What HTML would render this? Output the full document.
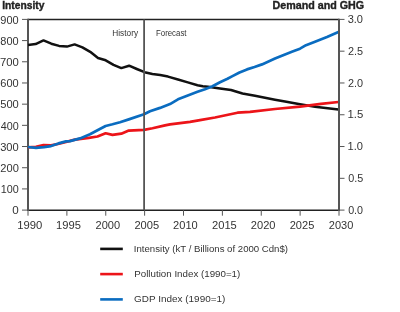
<!DOCTYPE html>
<html><head><meta charset="utf-8"><style>
html,body{margin:0;padding:0;background:#fff;width:400px;height:312px;overflow:hidden}
svg{display:block;font-family:"Liberation Sans", sans-serif;will-change:transform}
</style></head><body>
<svg width="400" height="312" viewBox="0 0 400 312">
<path d="M28,19.4H339" stroke="#222" stroke-width="1.5"/>
<path d="M28,210.35H340" stroke="#222" stroke-width="1.5"/>
<path d="M28,18.7V211.1" stroke="#555" stroke-width="2"/>
<path d="M22,210.10H28" stroke="#555" stroke-width="1"/>
<path d="M22,188.91H28" stroke="#555" stroke-width="1"/>
<path d="M22,167.72H28" stroke="#555" stroke-width="1"/>
<path d="M22,146.53H28" stroke="#555" stroke-width="1"/>
<path d="M22,125.34H28" stroke="#555" stroke-width="1"/>
<path d="M22,104.16H28" stroke="#555" stroke-width="1"/>
<path d="M22,82.97H28" stroke="#555" stroke-width="1"/>
<path d="M22,61.78H28" stroke="#555" stroke-width="1"/>
<path d="M22,40.59H28" stroke="#555" stroke-width="1"/>
<path d="M22,19.40H28" stroke="#555" stroke-width="1"/>
<path d="M339,210.10H344.5" stroke="#555" stroke-width="1"/>
<path d="M339,178.32H344.5" stroke="#555" stroke-width="1"/>
<path d="M339,146.53H344.5" stroke="#555" stroke-width="1"/>
<path d="M339,114.75H344.5" stroke="#555" stroke-width="1"/>
<path d="M339,82.97H344.5" stroke="#555" stroke-width="1"/>
<path d="M339,51.18H344.5" stroke="#555" stroke-width="1"/>
<path d="M339,19.40H344.5" stroke="#555" stroke-width="1"/>
<path d="M28.00,210.1V215.7" stroke="#555" stroke-width="1"/>
<path d="M66.88,210.1V215.7" stroke="#555" stroke-width="1"/>
<path d="M105.75,210.1V215.7" stroke="#555" stroke-width="1"/>
<path d="M144.62,210.1V215.7" stroke="#555" stroke-width="1"/>
<path d="M183.50,210.1V215.7" stroke="#555" stroke-width="1"/>
<path d="M222.38,210.1V215.7" stroke="#555" stroke-width="1"/>
<path d="M261.25,210.1V215.7" stroke="#555" stroke-width="1"/>
<path d="M300.12,210.1V215.7" stroke="#555" stroke-width="1"/>
<path d="M339.00,210.1V215.7" stroke="#555" stroke-width="1"/>
<polyline points="28.0,44.9 35.6,44.1 43.5,40.4 51.3,43.7 59.1,45.9 66.9,46.6 74.6,44.4 82.4,47.3 90.2,51.8 98.0,58.0 105.7,60.3 113.5,64.8 121.3,68.1 129.1,65.7 136.8,69.0 144.6,72.2 152.4,74.0 160.2,75.1 168.0,76.6 178.0,79.5 187.8,82.4 197.5,85.2 202.8,86.2 208.0,86.7 220.0,88.4 231.0,90.0 242.5,93.5 255.0,95.8 275.0,99.7 285.0,101.6 300.0,104.2 315.0,106.7 338.4,109.4" fill="none" stroke="#111" stroke-width="2.5" stroke-linejoin="round"/>
<polyline points="28.0,147.3 36.0,146.8 43.5,145.0 51.0,145.4 59.0,143.8 75.0,139.6 88.8,137.8 97.5,136.5 105.6,133.3 112.5,134.9 121.3,133.7 128.8,130.6 144.0,129.9 152.5,128.2 165.0,125.4 170.0,124.4 190.0,121.8 200.0,120.1 215.0,117.5 237.5,112.7 250.0,111.9 275.0,109.0 300.0,106.6 321.0,103.8 338.4,102.0" fill="none" stroke="#ec1419" stroke-width="2.7" stroke-linejoin="round"/>
<polyline points="28.0,147.0 36.0,147.8 44.0,147.2 51.0,146.1 58.5,143.4 66.0,141.4 70.0,141.1 80.0,138.4 90.0,134.3 97.5,130.3 105.6,126.0 112.5,124.3 120.0,122.2 128.8,119.4 144.0,114.3 150.0,111.3 160.0,107.9 170.0,104.1 178.0,99.3 187.8,95.4 197.5,91.8 205.0,89.2 212.5,86.3 220.0,82.2 227.5,78.8 232.0,76.4 239.5,72.5 247.0,69.4 254.5,67.0 262.0,64.4 275.0,58.6 285.0,54.4 292.5,51.6 300.0,48.7 306.0,45.2 315.0,41.7 327.0,37.0 338.4,32.0" fill="none" stroke="#0a6cc0" stroke-width="2.7" stroke-linejoin="round"/>
<path d="M144.10,19.4V210.1" stroke="#555" stroke-width="1.8"/>
<path d="M339,18.7V211.1" stroke="#555" stroke-width="2"/>
<path d="M100.2,248.9H122.8" stroke="#111" stroke-width="2.6"/>
<path d="M100.2,274.1H122.8" stroke="#ec1419" stroke-width="2.6"/>
<path d="M100.2,299.4H122.8" stroke="#0a6cc0" stroke-width="2.6"/>
<text x="2.16" y="9.40" font-size="10" font-weight="bold" fill="#222" stroke="#222" stroke-width="0.35" textLength="42.34" lengthAdjust="spacingAndGlyphs">Intensity</text>
<text x="272.50" y="9.40" font-size="10" font-weight="bold" fill="#222" stroke="#222" stroke-width="0.35" textLength="91.70" lengthAdjust="spacingAndGlyphs">Demand and GHG</text>
<text x="112.31" y="35.80" font-size="8.2" font-weight="normal" fill="#333" textLength="25.74" lengthAdjust="spacingAndGlyphs">History</text>
<text x="156.03" y="35.80" font-size="8.2" font-weight="normal" fill="#333" textLength="30.48" lengthAdjust="spacingAndGlyphs">Forecast</text>
<text x="133.83" y="252.20" font-size="9.2" font-weight="normal" fill="#333" textLength="154.18" lengthAdjust="spacingAndGlyphs">Intensity (kT / Billions of 2000 Cdn$)</text>
<text x="134.27" y="277.10" font-size="9.2" font-weight="normal" fill="#333" textLength="106.02" lengthAdjust="spacingAndGlyphs">Pollution Index (1990=1)</text>
<text x="134.12" y="302.10" font-size="9.2" font-weight="normal" fill="#333" textLength="91.22" lengthAdjust="spacingAndGlyphs">GDP Index (1990=1)</text>
<text x="12.30" y="214.30" font-size="10.8" font-weight="normal" fill="#333" textLength="6.48" lengthAdjust="spacingAndGlyphs">0</text>
<text x="0.67" y="193.11" font-size="10.8" font-weight="normal" fill="#333" textLength="17.99" lengthAdjust="spacingAndGlyphs">100</text>
<text x="0.32" y="171.92" font-size="10.8" font-weight="normal" fill="#333" textLength="18.50" lengthAdjust="spacingAndGlyphs">200</text>
<text x="0.19" y="150.73" font-size="10.8" font-weight="normal" fill="#333" textLength="18.56" lengthAdjust="spacingAndGlyphs">300</text>
<text x="0.70" y="129.54" font-size="10.8" font-weight="normal" fill="#333" textLength="17.96" lengthAdjust="spacingAndGlyphs">400</text>
<text x="0.19" y="108.36" font-size="10.8" font-weight="normal" fill="#333" textLength="18.60" lengthAdjust="spacingAndGlyphs">500</text>
<text x="0.28" y="87.17" font-size="10.8" font-weight="normal" fill="#333" textLength="18.42" lengthAdjust="spacingAndGlyphs">600</text>
<text x="-0.11" y="65.98" font-size="10.8" font-weight="normal" fill="#333" textLength="18.82" lengthAdjust="spacingAndGlyphs">700</text>
<text x="0.37" y="44.79" font-size="10.8" font-weight="normal" fill="#333" textLength="18.33" lengthAdjust="spacingAndGlyphs">800</text>
<text x="0.30" y="23.60" font-size="10.8" font-weight="normal" fill="#333" textLength="18.36" lengthAdjust="spacingAndGlyphs">900</text>
<text x="348.13" y="213.70" font-size="10.8" font-weight="normal" fill="#333" textLength="14.91" lengthAdjust="spacingAndGlyphs">0.0</text>
<text x="348.13" y="181.92" font-size="10.8" font-weight="normal" fill="#333" textLength="15.01" lengthAdjust="spacingAndGlyphs">0.5</text>
<text x="347.56" y="150.13" font-size="10.8" font-weight="normal" fill="#333" textLength="15.44" lengthAdjust="spacingAndGlyphs">1.0</text>
<text x="347.56" y="118.35" font-size="10.8" font-weight="normal" fill="#333" textLength="15.80" lengthAdjust="spacingAndGlyphs">1.5</text>
<text x="347.96" y="86.57" font-size="10.8" font-weight="normal" fill="#333" textLength="15.10" lengthAdjust="spacingAndGlyphs">2.0</text>
<text x="347.96" y="54.78" font-size="10.8" font-weight="normal" fill="#333" textLength="15.12" lengthAdjust="spacingAndGlyphs">2.5</text>
<text x="347.67" y="23.00" font-size="10.8" font-weight="normal" fill="#333" textLength="15.36" lengthAdjust="spacingAndGlyphs">3.0</text>
<text x="17.19" y="229.00" font-size="10.8" font-weight="normal" fill="#333" textLength="25.07" lengthAdjust="spacingAndGlyphs">1990</text>
<text x="56.08" y="229.00" font-size="10.8" font-weight="normal" fill="#333" textLength="24.93" lengthAdjust="spacingAndGlyphs">1995</text>
<text x="95.52" y="229.00" font-size="10.8" font-weight="normal" fill="#333" textLength="24.58" lengthAdjust="spacingAndGlyphs">2000</text>
<text x="134.40" y="229.00" font-size="10.8" font-weight="normal" fill="#333" textLength="24.74" lengthAdjust="spacingAndGlyphs">2005</text>
<text x="173.10" y="229.00" font-size="10.8" font-weight="normal" fill="#333" textLength="24.67" lengthAdjust="spacingAndGlyphs">2010</text>
<text x="211.99" y="229.00" font-size="10.8" font-weight="normal" fill="#333" textLength="24.80" lengthAdjust="spacingAndGlyphs">2015</text>
<text x="250.89" y="229.00" font-size="10.8" font-weight="normal" fill="#333" textLength="24.67" lengthAdjust="spacingAndGlyphs">2020</text>
<text x="289.69" y="229.00" font-size="10.8" font-weight="normal" fill="#333" textLength="24.61" lengthAdjust="spacingAndGlyphs">2025</text>
<text x="328.76" y="229.00" font-size="10.8" font-weight="normal" fill="#333" textLength="24.52" lengthAdjust="spacingAndGlyphs">2030</text>
</svg>
</body></html>
